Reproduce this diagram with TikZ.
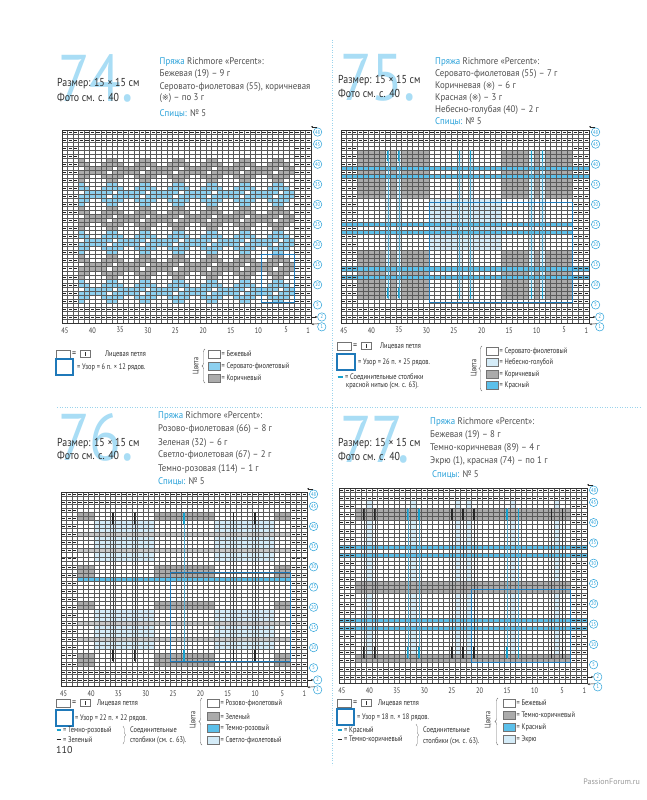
\documentclass[tikz,border=0pt]{standalone}
\usepackage{fontspec}
\setmainfont{PT Sans}
\newfontfamily\condf[FakeStretch=0.8]{PT Sans}
\newfontfamily\hdrf[FakeStretch=0.92]{PT Sans}
\newfontfamily\sizef[FakeStretch=0.86]{PT Sans}
\newfontfamily\bigf[FakeStretch=0.88]{PT Sans}
\newfontfamily\symf{DejaVu Sans}
\usetikzlibrary{arrows.meta,decorations.pathreplacing}
\definecolor{txt}{HTML}{303030}
\definecolor{ttl}{HTML}{2AA2DA}
\definecolor{bignum}{HTML}{A9DDF5}
\definecolor{cblue}{HTML}{8DD0EF}
\definecolor{cred}{HTML}{5CC0EA}
\definecolor{clight}{HTML}{D5ECF8}
\definecolor{cgray}{HTML}{ABABAB}
\definecolor{clgray}{HTML}{C8C8C8}
\definecolor{gridc}{HTML}{5A5A5A}
\definecolor{boxc}{HTML}{1F79B9}
\definecolor{dotc}{HTML}{9AD3EC}
\tikzset{
  gridl/.style={draw=gridc, line width=0.45pt},
  frame/.style={draw=black!80, line width=0.8pt},
  purl/.style={draw=black!85, line width=0.5pt},
  rowlab/.style={circle, draw=ttl, line width=0.5pt, fill=white, inner sep=0pt, minimum size=8.4pt, text=ttl, font=\condf\fontsize{5.6}{6}\selectfont},
  collab/.style={font=\condf\fontsize{8}{9}\selectfont, text=black!75, inner sep=0pt},
  arr/.style={-{Stealth[length=2.2pt,width=2pt]}, line width=0.5pt, draw=black!85},
  bign/.style={font=\bigf\fontsize{66}{66}\selectfont, text=bignum, anchor=base west, inner sep=0pt},
  sizet/.style={font=\sizef\fontsize{11.5}{12}\selectfont, text=txt, anchor=base west, inner sep=0pt},
  hdr/.style={font=\hdrf\fontsize{9.6}{11}\selectfont, text=txt!85, anchor=base west, inner sep=0pt},
  leg/.style={font=\condf\fontsize{8}{9}\selectfont, text=txt, anchor=west, inner sep=0pt},
  lbox/.style={draw=black!55, line width=0.4pt},
  pbox/.style={draw=boxc, line width=1.1pt},
  slipb/.style={draw=boxc!70!cyan, line width=1.2pt},
  slipk/.style={draw=black!85, line width=1.2pt},
  thinb/.style={draw=cred!85!black, line width=0.6pt},
  think/.style={draw=black!75, line width=0.6pt},
}
\newcommand\cells[5]{\fill[#1] (#2-1,#4-1) rectangle (#3,#5);}
\newcommand\purls[3]{\foreach \pp in {#2,...,#3}{\draw[purl] (\pp-0.8,#1-0.5) -- (\pp-0.2,#1-0.5);}}
\newcommand\garter{%
  \foreach \rr in {2,4,46,48}{\purls{\rr}{1}{45}}%
  \foreach \rr in {6,8,...,44}{\purls{\rr}{1}{3}\purls{\rr}{43}{45}}%
}
\newcommand\gridframe{%
  \draw[gridl, step=1] (0,0) grid (45,48);
  \draw[frame] (0,0) rectangle (45,48);
}
\newcommand\labels[1]{%
  \foreach \rr in {48,45,40,35,30,25,20,15,10,5}{\node[rowlab] (#1r\rr) at (46.2,\rr-0.5) {\rr};}
  \node[rowlab] (#1r2) at (46.95,1.5) {2};
  \node[rowlab] (#1r1) at (46.95,-0.95) {1};
  \coordinate (#1e2) at (45.1,1.5);
  \coordinate (#1e1) at (45.1,-0.3);
  \draw[arr] (#1e2) -- (#1r2.west);
  \draw[arr] (#1r1.north west) -- (#1e1);
  \coordinate (#1t1) at (46.1,48.8);
  \coordinate (#1t2) at (45.0,48.8);
  \draw[arr] (#1t1) -- (#1t2);
  \foreach \cc in {45,40,...,5,1}{\node[collab] (#1c\cc) at (45.5-\cc,-1.8) {\cc};}
}
% slip-stitch column: cell, bottom thick rows, top thick rows, style thin, style thick
\newcommand\slipcol[3]{%
  \draw[#2] (#1-0.5,6) -- (#1-0.5,43);
  \draw[#3] (#1-0.5,6.2) -- (#1-0.5,8.8);
  \draw[#3] (#1-0.5,40.2) -- (#1-0.5,42.8);
}
\newcommand\knitleg[4]{%
  \draw[lbox] (#2,#3-3.8) rectangle (#2+14,#3+3.8);
  \node[leg, font=\condf\fontsize{10}{10}\selectfont] (#1eq) at (#2+16,#3) {=};
  \draw[lbox] (#2+24,#3-3.4) rectangle (#2+34,#3+3.4);
  \draw[black!80, line width=0.6pt] (#2+29,#3-2) -- (#2+29,#3+2);
  \node[leg] (#1kn) at (#4,#3) {Лицевая петля};
}
\newcommand\colboxx[5]{%
  \draw[lbox, fill=#4] (#2,#3-4) rectangle (#2+12,#3+4);
  \node[leg] (#1) at (#2+13.5,#3) {#5};
}
\begin{document}
\begin{tikzpicture}[x=1pt,y=-1pt]
\path[use as bounding box, fill=white] (0,0) rectangle (646,800);
\draw[dotc, line width=0.9pt, dash pattern=on 0.9pt off 1.6pt] (332,40) -- (332,765);
\draw[dotc, line width=0.9pt, dash pattern=on 0.9pt off 1.6pt] (57,407.5) -- (640,407.5);

% ================= 74 header
\node[bign] (n74) at (58,101) {74.};
\node[sizet] (s74a) at (57,86) {Размер: 15 × 15 см};
\node[sizet] (s74b) at (57,101.5) {Фото см. с. 40};
\node[hdr] (h74a) at (159.5,64) {\textcolor{ttl}{Пряжа} Richmore «Percent»:};
\node[hdr] (h74b) at (159.5,76.7) {Бежевая (19) – 9 г};
\node[hdr] (h74c) at (159.5,89) {Серовато-фиолетовая (55), коричневая};
\node[hdr] (h74d) at (159.5,100.8) {({\symf\fontsize{8}{9}\selectfont ※}) – по 3 г};
\node[hdr] (h74e) at (159.5,116) {\textcolor{ttl}{Спицы:} № 5};

% ================= 75 header
\node[bign] (n75) at (340,100) {75.};
\node[sizet] (s75a) at (338,84) {Размер: 15 × 15 см};
\node[sizet] (s75b) at (338,97.5) {Фото см. с. 40};
\node[hdr] (h75a) at (435,64) {\textcolor{ttl}{Пряжа} Richmore «Percent»:};
\node[hdr] (h75b) at (435,76.5) {Серовато-фиолетовая (55) – 7 г};
\node[hdr] (h75c) at (435,88.5) {Коричневая ({\symf\fontsize{8}{9}\selectfont ※}) – 6 г};
\node[hdr] (h75d) at (435,100.6) {Красная ({\symf\fontsize{8}{9}\selectfont ※}) – 3 г};
\node[hdr] (h75e) at (435,112.6) {Небесно-голубая (40) – 2 г};
\node[hdr] (h75f) at (435,124) {\textcolor{ttl}{Спицы:} № 5};

% ================= 76 header
\node[bign] (n76) at (58,460) {76.};
\node[sizet] (s76a) at (57,446) {Размер: 15 × 15 см};
\node[sizet] (s76b) at (57,459.5) {Фото см. с. 40};
\node[hdr] (h76a) at (158,418.3) {\textcolor{ttl}{Пряжа} Richmore «Percent»:};
\node[hdr] (h76b) at (158,431.6) {Розово-фиолетовая (66) – 8 г};
\node[hdr] (h76c) at (158,445) {Зеленая (32) – 6 г};
\node[hdr] (h76d) at (158,457.6) {Светло-фиолетовая (67) – 2 г};
\node[hdr] (h76e) at (158,471) {Темно-розовая (114) – 1 г};
\node[hdr] (h76f) at (158,484.5) {\textcolor{ttl}{Спицы:} № 5};

% ================= 77 header
\node[bign] (n77) at (340,462) {77.};
\node[sizet] (s77a) at (338,446) {Размер: 15 × 15 см};
\node[sizet] (s77b) at (338,460) {Фото см. с. 40};
\node[hdr] (h77a) at (430,424.5) {\textcolor{ttl}{Пряжа} Richmore «Percent»:};
\node[hdr] (h77b) at (430,437.5) {Бежевая (19) – 8 г};
\node[hdr] (h77c) at (430,450.5) {Темно-коричневая (89) – 4 г};
\node[hdr] (h77d) at (430,463.5) {Экрю (1), красная (74) – по 1 г};
\node[hdr] (h77e) at (432,477.5) {\textcolor{ttl}{Спицы:} № 5};

% ================= chart 74
\begin{scope}[shift={(62,323)}, x=5.533pt, y=4.02pt]
  \def\motif{2/0,3/0,1/1,2/1,3/1,4/1,0/2,1/2,2/2,4/2,5/2,0/3,1/3,3/3,4/3,5/3,1/4,2/4,3/4,4/4,2/5,3/5}
  \foreach \b/\cl in {6/cblue,12/cgray,18/cblue,24/cgray,30/cblue,36/cgray}{
    \foreach \k in {0,...,6}{
      \foreach \dx/\dy in \motif{
        \pgfmathtruncatemacro\xx{41-6*\k-\dx}
        \ifnum\xx>2
          \fill[\cl] (\xx,\b+\dy-1) rectangle (\xx+1,\b+\dy);
        \fi
      }
    }
  }
  \gridframe
  \garter
  \draw[pbox] (36,5) rectangle (42,17);
  \labels{a}
\end{scope}

% ================= chart 75
\begin{scope}[shift={(341,323)}, x=5.511pt, y=4.02pt]
  \cells{cgray}{4}{16}{32}{43}
  \cells{cgray}{30}{42}{32}{43}
  \cells{cgray}{4}{16}{7}{18}
  \cells{cgray}{30}{42}{7}{18}
  \cells{clight}{17}{29}{19}{31}
  \foreach \ii in {9,11,22,24,35,37}{\cells{clight!70!white}{\ii}{\ii}{7}{43}}
  \foreach \rr in {39,37,14,12}{\cells{cred}{1}{45}{\rr}{\rr}}
  \foreach \rr in {25,23}{\cells{cred}{1}{42}{\rr}{\rr}}
  \gridframe
  \garter
  \foreach \ii in {9,11,22,24,35,37}{\slipcol{\ii}{thinb}{slipb}}
  \draw[pbox] (16,5) rectangle (42,30);
  \labels{b}
\end{scope}

% ================= chart 76
\begin{scope}[shift={(61,686)}, x=5.467pt, y=4.04pt]
  \foreach \ra/\rb in {42/43,28/30,20/21,6/8}{
    \cells{cgray}{4}{6}{\ra}{\rb}
    \cells{cgray}{18}{28}{\ra}{\rb}
    \cells{cgray}{40}{42}{\ra}{\rb}}
  \cells{clight}{7}{17}{32}{41}
  \cells{clight}{29}{39}{32}{41}
  \cells{clight}{7}{17}{10}{19}
  \cells{clight}{29}{39}{10}{19}
  \foreach \rr in {38,34,16,12}{\cells{clgray}{4}{42}{\rr}{\rr}}
  \cells{cred}{4}{42}{27}{27}
  \gridframe
  \garter
  \foreach \ii in {10,14,32,36}{\slipcol{\ii}{think}{slipk}}
  \slipcol{23}{thinb}{slipb}
  \draw[pbox] (20,6) rectangle (42,28);
  \labels{c}
\end{scope}

% ================= chart 77
\begin{scope}[shift={(339,683)}, x=5.511pt, y=4.06pt]
  \foreach \ii in {6,22,24,40,14,32}{\cells{clight}{\ii}{\ii}{6}{45}}
  \cells{cgray}{4}{42}{41}{43}
  \cells{cgray}{4}{42}{23}{25}
  \cells{cgray}{4}{42}{6}{7}
  \foreach \rr in {34,32,16,14}{\cells{cred}{1}{45}{\rr}{\rr}}
  \gridframe
  \garter
  \foreach \ii in {5,7,21,23,25,39,41}{\slipcol{\ii}{think}{slipk}}
  \foreach \ii in {13,15,31,33}{\slipcol{\ii}{thinb}{slipb}}
  \draw[pbox] (24,5) rectangle (42,23);
  \labels{d}
\end{scope}

% ================= legends
\knitleg{l74}{56}{354}{105}
\draw[pbox] (56,359) rectangle (73,375);
\node[leg] (l74u) at (77,367) {= Узор = 6 п. × 12 рядов.};
\node[leg, rotate=90, anchor=center] (l74c) at (196,366) {Цвета};
\draw[lbox, decorate, decoration={brace, amplitude=3pt}] (205,383) -- (205,349);
\colboxx{l74k1}{208}{354}{white}{= Бежевый}
\colboxx{l74k2}{208}{366}{cblue}{= Серовато-фиолетовый}
\colboxx{l74k3}{208}{378}{cgray}{= Коричневый}

\knitleg{l75}{337}{346}{380}
\draw[pbox] (337,354) rectangle (355,370);
\node[leg] (l75u) at (358,362) {= Узор = 26 п. × 25 рядов.};
\draw[slipb] (337.5,377) -- (342.5,377);
\node[leg] (l75s) at (345,377) {= Соединительные столбики};
\node[leg] (l75s2) at (346,386) {красной нитью (см. с. 63).};
\node[leg, rotate=90, anchor=center] (l75c) at (474,368) {Цвета};
\draw[lbox, decorate, decoration={brace, amplitude=3pt}] (482,391) -- (482,346);
\colboxx{l75k1}{486}{351}{white}{= Серовато-фиолетовый}
\colboxx{l75k2}{486}{362.5}{clight}{= Небесно-голубой}
\colboxx{l75k3}{486}{374}{cgray}{= Коричневый}
\colboxx{l75k4}{486}{385.5}{cred}{= Красный}

\knitleg{l76}{56}{703}{97}
\draw[pbox] (56,710) rectangle (73,726);
\node[leg] (l76u) at (75,718) {= Узор = 22 п. × 22 рядов.};
\draw[slipb] (56.5,730) -- (60.5,730);
\node[leg] (l76s1) at (63,730) {= Темно-розовый};
\draw[slipk] (56.5,739.5) -- (60.5,739.5);
\node[leg] (l76s2) at (63,739.5) {= Зеленый};
\draw[lbox, decorate, decoration={brace, amplitude=2.5pt}] (123,726) -- (123,744);
\node[leg] (l76s3) at (130,730) {Соединительные};
\node[leg] (l76s4) at (130,740) {столбики (см. с. 63).};
\node[leg, rotate=90, anchor=center] (l76c) at (193,720) {Цвета};
\draw[lbox, decorate, decoration={brace, amplitude=3pt}] (202,745) -- (202,698);
\colboxx{l76k1}{207}{703}{white}{= Розово-фиолетовый}
\colboxx{l76k2}{207}{716.5}{cgray}{= Зеленый}
\colboxx{l76k3}{207}{728}{cred}{= Темно-розовый}
\colboxx{l76k4}{207}{740}{clight}{= Светло-фиолетовый}

\knitleg{l77}{337}{703}{378}
\draw[pbox] (337,709) rectangle (354,725);
\node[leg] (l77u) at (357,717) {= Узор = 18 п. × 18 рядов.};
\draw[slipb] (337.5,730) -- (341.5,730);
\node[leg] (l77s1) at (344,730) {= Красный};
\draw[slipk] (337.5,739.5) -- (341.5,739.5);
\node[leg] (l77s2) at (344,739.5) {= Темно-коричневый};
\draw[lbox, decorate, decoration={brace, amplitude=2.5pt}] (416,724) -- (416,746);
\node[leg] (l77s3) at (423,730) {Соединительные};
\node[leg] (l77s4) at (423,741) {столбики (см. с. 63).};
\node[leg, rotate=90, anchor=center] (l77c) at (488,720) {Цвета};
\draw[lbox, decorate, decoration={brace, amplitude=3pt}] (498,745) -- (498,698);
\colboxx{l77k1}{503}{703}{white}{= Бежевый}
\colboxx{l77k2}{503}{715}{cgray}{= Темно-коричневый}
\colboxx{l77k3}{503}{727}{cred}{= Красный}
\colboxx{l77k4}{503}{739}{clight}{= Экрю}

\node[font=\fontsize{10}{11}\selectfont, text=txt, anchor=west, inner sep=0pt] (pg) at (56,750) {110};
\node[font=\fontsize{8}{9}\selectfont, text=black!40, anchor=east, inner sep=0pt] (wm) at (640,782) {PassionForum.ru};
\end{tikzpicture}
\end{document}
